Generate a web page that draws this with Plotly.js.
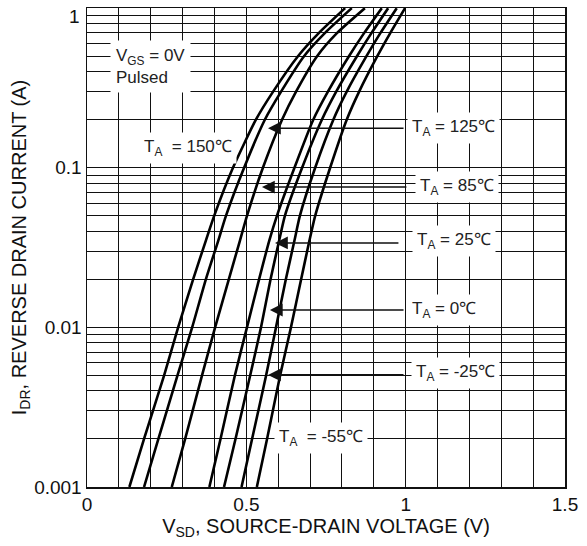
<!DOCTYPE html>
<html>
<head>
<meta charset="utf-8">
<script src="https://cdn.plot.ly/plotly-3.0.1.min.js"></script>
<style>html,body{margin:0;padding:0;background:#fff;}#chart{width:587px;height:546px;}</style>
</head>
<body>
<div id="chart"></div>
<script>
// Reverse drain current levels (A)
const currents = [0.001, 0.002, 0.005, 0.01, 0.02, 0.035, 0.05, 0.1, 0.2, 0.3, 0.5, 0.7, 1.0];
// Source-drain voltage (V) for each temperature
const temps = ["150", "125", "85", "25", "0", "-25", "-55"];
const vsd150 = [0.133, 0.179, 0.242, 0.286, 0.333, 0.373, 0.399, 0.458, 0.530, 0.584, 0.662, 0.728, 0.810];
const vsd125 = [0.179, 0.224, 0.284, 0.330, 0.373, 0.412, 0.436, 0.493, 0.558, 0.609, 0.681, 0.747, 0.831];
const vsd85  = [0.266, 0.308, 0.361, 0.402, 0.445, 0.480, 0.502, 0.552, 0.612, 0.656, 0.722, 0.785, 0.872];
const vsd25  = [0.384, 0.419, 0.464, 0.502, 0.540, 0.572, 0.596, 0.651, 0.710, 0.756, 0.822, 0.870, 0.925];
const vsd0   = [0.430, 0.466, 0.512, 0.546, 0.576, 0.603, 0.621, 0.675, 0.737, 0.782, 0.847, 0.893, 0.945];
const vsdm25 = [0.485, 0.518, 0.562, 0.593, 0.624, 0.651, 0.668, 0.716, 0.773, 0.815, 0.877, 0.921, 0.972];
const vsdm55 = [0.533, 0.565, 0.606, 0.640, 0.672, 0.698, 0.716, 0.763, 0.815, 0.854, 0.911, 0.952, 0.998];
const series = [vsd150, vsd125, vsd85, vsd25, vsd0, vsdm25, vsdm55];

// Axis ticks
const xTickVals = [0,0.1,0.2,0.3,0.4,0.5,0.6,0.7,0.8,0.9,1.0,1.1,1.2,1.3,1.4,1.5];
const xTickText = ["0","","","","","0.5","","","","","1","","","","","1.5"];
const decades = [0.001, 0.01, 0.1];
const decadeLabels = ["0.001", "0.01", "0.1"];
const topLabel = "1";

const yTickVals = [], yTickText = [];
decades.forEach((d, i) => {
  for (let m = 1; m <= 9; m++) {
    yTickVals.push(d * m);
    yTickText.push(m === 1 ? decadeLabels[i] : " ");
  }
});
yTickVals.push(1); yTickText.push(" ");

const traces = series.map((v, i) => ({
  x: v, y: currents, type: "scatter", mode: "lines",
  name: "TA = " + temps[i] + "°C",
  line: {color: "#000", width: 2.6, shape: "spline", smoothing: 0.6},
  showlegend: false, hoverinfo: "skip"
}));

const FAM = "Liberation Sans, Arial, sans-serif";
const lblFont = {family: FAM, size: 17, color: "#222"};
function lbl(text, x, y, xanchor) {
  return {text: text, x: x, y: Math.log10(y), xref: "x", yref: "y", showarrow: false,
    font: lblFont, bgcolor: "#fff", borderpad: 4, xanchor: xanchor || "center", yanchor: "middle"};
}
function arr(x0, x1, y) {
  return {text: "", x: x1, y: Math.log10(y), ax: x0, ay: Math.log10(y), xref: "x", yref: "y",
    axref: "x", ayref: "y", showarrow: true, arrowhead: 2, arrowsize: 1.6, arrowwidth: 1.6,
    arrowcolor: "#111"};
}

const axFont = {family: FAM, size: 19, color: "#111"};
const titleFont = {family: FAM, size: 20, color: "#111"};

const annotations = [
  {text: "V<sub>GS</sub> = 0V<br>Pulsed", x: 0.072, y: Math.log10(0.43), xref: "x", yref: "y",
   showarrow: false, align: "left", xanchor: "left", yanchor: "middle", font: lblFont,
   bgcolor: "#fff", borderpad: 5},
  lbl("T<sub>A</sub>  = 150℃", 0.317, 0.133),
  arr(0.998, 0.568, 0.177), lbl("T<sub>A</sub> = 125℃", 1.149, 0.177),
  arr(1.007, 0.549, 0.0757), lbl("T<sub>A</sub> = 85℃", 1.161, 0.0757),
  arr(0.982, 0.590, 0.0338), lbl("T<sub>A</sub> = 25℃", 1.152, 0.0348),
  arr(0.998, 0.574, 0.01285), lbl("T<sub>A</sub> = 0℃", 1.120, 0.01285),
  arr(0.998, 0.568, 0.00504), lbl("T<sub>A</sub> = -25℃", 1.155, 0.00518),
  lbl("T<sub>A</sub>  = -55℃", 0.734, 0.00203),
  {text: topLabel, xref: "paper", x: 0, xanchor: "right", xshift: -5, yref: "y", y: 0,
   yanchor: "top", yshift: 4, showarrow: false, font: axFont}
];

const layout = {
  width: 587, height: 546,
  margin: {l: 87, r: 22, t: 8, b: 59},
  paper_bgcolor: "#fff", plot_bgcolor: "#fff",
  showlegend: false,
  xaxis: {
    range: [0, 1.5], tickvals: xTickVals, ticktext: xTickText, ticks: "",
    showgrid: true, gridcolor: "#111", gridwidth: 1, zeroline: false,
    showline: true, mirror: true, linecolor: "#111", linewidth: 1.5,
    tickfont: axFont, ticklabeloverflow: "allow", automargin: false,
    title: {text: "V<sub>SD</sub>, SOURCE-DRAIN VOLTAGE (V)", font: titleFont, standoff: 2}
  },
  yaxis: {
    type: "log", range: [-3, 0.001], tickvals: yTickVals, ticktext: yTickText, ticks: "",
    showgrid: true, gridcolor: "#111", gridwidth: 1, zeroline: false,
    showline: true, mirror: true, linecolor: "#111", linewidth: 1.5,
    tickfont: axFont, ticklabeloverflow: "allow", automargin: false,
    title: {text: "I<sub>DR</sub>, REVERSE DRAIN CURRENT (A)", font: titleFont, standoff: 2}
  },
  annotations: annotations
};

Plotly.newPlot("chart", traces, layout, {displayModeBar: false, staticPlot: true});
</script>
</body>
</html>
